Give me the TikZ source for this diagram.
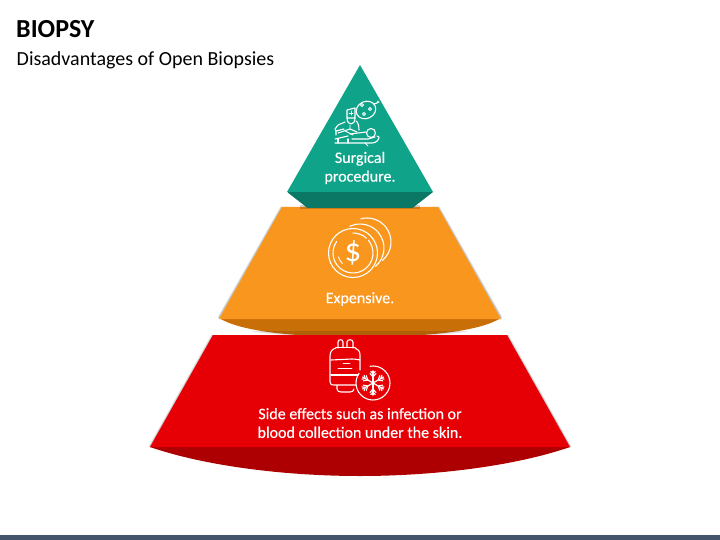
\documentclass[tikz,border=0pt]{standalone}
\usepackage{fontspec}
\setmainfont{Carlito}
\definecolor{tealF}{HTML}{0FA38A}
\definecolor{tealD}{HTML}{0B7866}
\definecolor{orgF}{HTML}{F9961E}
\definecolor{orgD}{HTML}{C96F08}
\definecolor{redF}{HTML}{E60005}
\definecolor{redD}{HTML}{AD0003}
\definecolor{footer}{HTML}{44546A}
\tikzset{
  facetext/.style={text=white,align=center,font=\fontsize{16}{18.7}\selectfont\addfontfeature{FakeBold=0.25},inner sep=0pt},
  icon/.style={draw=white,line width=1.1pt,line cap=round,line join=round},
  iconthin/.style={draw=white,line width=.9pt,line cap=round,line join=round},
  softedge/.style={draw=black,opacity=.10,line width=3pt},
  softedgeb/.style={draw=black,opacity=.14,line width=1.5pt}
}
% visual-angle arc (page y runs downwards): centre x,y, radius, from, to
\newcommand{\visarc}[6][icon]{\draw[#1] (#2,#3) ++({-(#5)}:#4) arc[start angle={-(#5)},end angle={-(#6)},radius=#4];}
\begin{document}
\begin{tikzpicture}[x=1pt,y=-1pt]
\useasboundingbox (0,0) rectangle (720,540);
\fill[white] (0,0) rectangle (720,540);
\fill[footer] (0,535) rectangle (720,540);
\node[anchor=west,inner sep=0pt,font=\fontsize{26}{28}\selectfont\bfseries] (title) at (16,29.5) {BIOPSY};
\node[anchor=west,inner sep=0pt,font=\fontsize{20}{24}\selectfont] (subtitle) at (16.5,60.5) {Disadvantages of Open Biopsies};

% red tier
\draw[softedge] (150,447) -- (213,335) (507,335) -- (570,447);
\draw[softedgeb] (150,447) -- (213,335) (507,335) -- (570,447);
\fill[redD] (150,447) .. controls (205,466) and (285,476) .. (360,476) .. controls (435,476) and (515,466) .. (570,447) -- cycle;
% orange tier
\fill[orgD] (219,318) .. controls (240,331) and (290,337) .. (360,337) .. controls (430,337) and (480,331) .. (501,318) -- cycle;
\fill[black,opacity=.12] (250,331) .. controls (280,336) and (320,337) .. (360,337) .. controls (400,337) and (440,336) .. (470,331) -- cycle;
\draw[softedge] (219,318) -- (282,207) (438,207) -- (501,318);
\draw[softedgeb] (219,318) -- (282,207) (438,207) -- (501,318);
\fill[orgF] (219,319) -- (282,207) -- (438,207) -- (501,319) -- cycle;
% red face over orange
\fill[redF] (150,447) -- (213,335) -- (507,335) -- (570,447) -- cycle;
% green tier
\fill[black,opacity=.18] (300,205) rectangle (420,209);
\fill[tealD] (287,192) -- (433,192) -- (415,206) [rounded corners=1pt] -- (413,208) -- (307,208) -- (305,206) -- cycle;
\fill[tealF] (360,65) -- (433,192) -- (287,192) -- cycle;

% texts
\node[facetext] (surgical) at (360,168) {Surgical\\procedure.};
\node[facetext] (expensive) at (360,299) {Expensive.};
\node[facetext] (side) at (360,423) {Side effects such as infection or\\blood collection under the skin.};

% surgical icon
\draw[icon] (347,110) -- (347,118) -- (355,118) -- (355,108) -- (347,110);
\draw[iconthin] (351,111) -- (351,115) (349,113) -- (353,113);
\draw[icon,rotate around={25:(366,110)}] (366,110) ellipse (10 and 8.5);
\draw[iconthin] (362,105) circle (1.6) (370,109) circle (1.6) (364,114) circle (1.6);
\draw[icon] (374,104) -- (377,103) -- (378,101) (376,103.5) -- (379,102);
\draw[icon] (347,118) .. controls (347,122) and (349,124) .. (351,124) .. controls (353,124) and (355,122) .. (355,118);
\draw[icon] (345,122) -- (338,125) -- (335,129) -- (336,131) -- (344,129);
\draw[icon] (356,121) .. controls (358,122) and (359,126) .. (359,130);
\draw[icon] (336,131) -- (336,135) (338,133) -- (350,129) -- (357,132);
\draw[iconthin] (350,125) -- (350,129) (345,131) -- (353,135);
\draw[icon] (371,133) circle (4.5);
\draw[icon] (350,134) -- (366,132) (352,139) -- (368,139) -- (375,137);
\draw[icon] (335,139) -- (348,136) (335,143) -- (372,143) .. controls (376,143) and (379,140) .. (379,137) -- (377,136);
\draw[icon] (338,139) -- (338,143) (348,139) -- (348,143);
\draw[iconthin] (365,143) -- (368,146);

% coins icon
\visarc{367}{242}{24}{-50}{105}
\visarc{360}{248}{24}{-50}{115}
\draw[icon,fill=orgF] (353,253) circle (24.5);
\visarc{353}{253}{20}{90}{48}
\visarc{353}{253}{20}{40}{-215}
\visarc[iconthin]{353}{253}{15}{195}{225}
\node[text=white,inner sep=0pt,font=\fontsize{33}{33}\selectfont] (dollar) at (353,253) {\$};

% blood bag icon
\draw[icon] (338,348) -- (338,342) .. controls (338,339) and (343,339) .. (343,342) -- (343,347);
\draw[icon] (347,347) -- (347,342) .. controls (347,339) and (353,339) .. (353,342) -- (353,348);
\draw[icon] (336,347.5) -- (355,347.5);
\draw[icon] (355,348) .. controls (358,349) and (360,351) .. (360,355) -- (360,370);
\draw[icon] (336,348) .. controls (332,349) and (330,352) .. (330,356) -- (330,382) .. controls (330,385) and (332,385) .. (334,385) -- (356,385);
\draw[icon] (331,360) -- (352,359) .. controls (356,359) and (359,360) .. (360,360);
\draw[icon] (331,375) -- (358,375);
\draw[iconthin] (343,363.5) -- (350,363.5) (338,368.5) -- (352,368.5);
\draw[icon] (337,385.5) -- (337,389) .. controls (337,391) and (339,392) .. (341,392) -- (350,392) .. controls (352,392) and (354,391) .. (354,389);
\visarc{373}{383}{17}{100}{-215}
\foreach \a in {30,90,150,210,270,330}{
  \begin{scope}[shift={(373,383)},rotate=\a]
    \draw[line width=1.2pt,draw=white,line cap=round] (0,0) -- (12,0);
    \draw[iconthin,line width=1.1pt] (6,0) -- (9.5,-3) (6,0) -- (9.5,3) (9,0) -- (11.5,-2.2) (9,0) -- (11.5,2.2);
  \end{scope}
}
\end{tikzpicture}
\end{document}
